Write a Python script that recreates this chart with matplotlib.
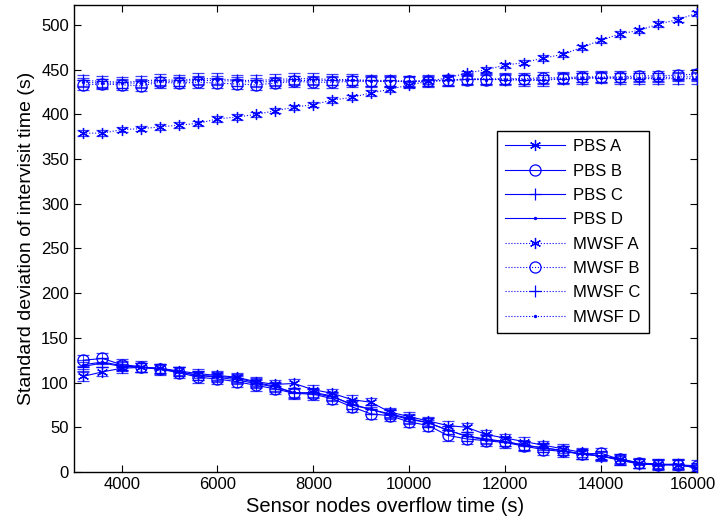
import matplotlib
matplotlib.use("Agg")
import matplotlib.pyplot as plt
import matplotlib.transforms as mtransforms
import numpy as np

plt.rcParams['font.family'] = ['Liberation Sans', 'DejaVu Sans']

x = list(range(3200, 16001, 400))

pbs_a = [107, 112, 116, 117, 116, 113, 110, 108, 106, 101, 98, 99, 92, 88, 81, 78, 67,
         62, 57, 52, 50, 42, 38, 34, 30, 26, 22, 17, 15, 10, 9, 8, 5]
pbs_b = [125, 127, 120, 118, 115, 111, 106, 104, 101, 97, 93, 88, 87, 82, 73, 65, 63,
         56, 52, 41, 37, 35, 33, 29, 25, 23, 20, 21, 14, 10, 8, 8, 7]
pbs_c = [118, 122, 118, 117, 115, 112, 108, 107, 105, 100, 96, 88, 89, 85, 75, 70, 65,
         60, 55, 47, 40, 37, 34, 30, 27, 24, 20, 18, 14, 9, 8, 9, 4]
pbs_d = [120, 123, 119, 117, 116, 112, 108, 106, 103, 99, 95, 89, 88, 84, 76, 70, 64,
         59, 55, 47, 40, 36, 34, 30, 27, 24, 20, 18, 13, 9, 8, 8, 5]

mwsf_a = [379, 379, 383, 384, 386, 388, 390, 395, 397, 400, 404, 408, 411, 416, 419, 424, 428,
          433, 437, 441, 446, 450, 455, 458, 463, 467, 475, 483, 490, 494, 501, 506, 513]
mwsf_b = [433, 434, 433, 432, 436, 435, 436, 435, 434, 433, 435, 437, 436, 436, 437, 437, 437,
          437, 437, 438, 439, 439, 440, 440, 441, 441, 442, 442, 442, 443, 443, 444, 445]
mwsf_c = [438, 437, 436, 437, 439, 438, 440, 440, 438, 438, 439, 440, 440, 439, 439, 438, 438,
          437, 438, 438, 440, 440, 439, 438, 438, 440, 440, 441, 440, 440, 440, 440, 440]
mwsf_d = [436, 435, 435, 435, 437, 437, 438, 438, 437, 436, 437, 438, 438, 438, 438, 437, 437,
          437, 437, 438, 439, 439, 439, 439, 439, 440, 441, 441, 441, 441, 441, 442, 442]

pbs_err = [5, 6, 5, 5]
mwsf_err = [3, 6, 6, 5]

labels = ['PBS A', 'PBS B', 'PBS C', 'PBS D', 'MWSF A', 'MWSF B', 'MWSF C', 'MWSF D']
xticks = [4000, 6000, 8000, 10000, 12000, 14000, 16000]
yticks = [0, 50, 100, 150, 200, 250, 300, 350, 400, 450, 500]

fig = plt.figure(figsize=(7.16, 5.22), dpi=100)
ax = fig.add_axes([0.103, 0.0958, 0.870, 0.894])

blue = (0, 0, 1)
markers = [(6, 2, 0), 'o', '+', '.']
msizes = [8, 8, 9, 3]

series = [pbs_a, pbs_b, pbs_c, pbs_d, mwsf_a, mwsf_b, mwsf_c, mwsf_d]
errs = pbs_err + mwsf_err
handles = []
for i, (ys, lab) in enumerate(zip(series, labels)):
    ls = '-' if i < 4 else ':'
    m = markers[i % 4]
    ax.errorbar(x, ys, yerr=errs[i], fmt='none', ecolor=blue, elinewidth=0.7,
                capsize=4.5, capthick=0.9, alpha=0.75, zorder=2)
    h, = ax.plot(x, ys, linestyle=ls, color=blue, linewidth=0.8, marker=m,
                 markersize=msizes[i % 4], markerfacecolor='none' if m == 'o' else blue,
                 markeredgecolor=blue, markeredgewidth=0.9, label=lab, zorder=3)
    handles.append(h)

ax.set_xlim(3000, 16000)
ax.set_ylim(0, 522)
ax.set_xticks(xticks)
ax.set_yticks(yticks)
ax.tick_params(direction='in', top=True, right=True, length=5, width=0.8, labelsize=12)
for s in ax.spines.values():
    s.set_linewidth(1.0)

# keep the last x tick label inside the figure
last = ax.get_xticklabels()[-1]
last.set_transform(last.get_transform() +
                   mtransforms.ScaledTranslation(-4 / 100, 0, fig.dpi_scale_trans))

ax.set_xlabel('Sensor nodes overflow time (s)', fontsize=14.5, labelpad=4)
ax.set_ylabel('Standard deviation of intervisit time (s)', fontsize=14, labelpad=4)

leg = ax.legend(handles=handles, loc='upper left', bbox_to_anchor=(0.679, 0.731),
                borderaxespad=0, fontsize=12, handlelength=3.6, handletextpad=0.5,
                labelspacing=0.56, frameon=True, fancybox=False, framealpha=1,
                edgecolor='black', borderpad=0.5)
leg.get_frame().set_linewidth(1.0)

fig.savefig('out.png', dpi=100)
